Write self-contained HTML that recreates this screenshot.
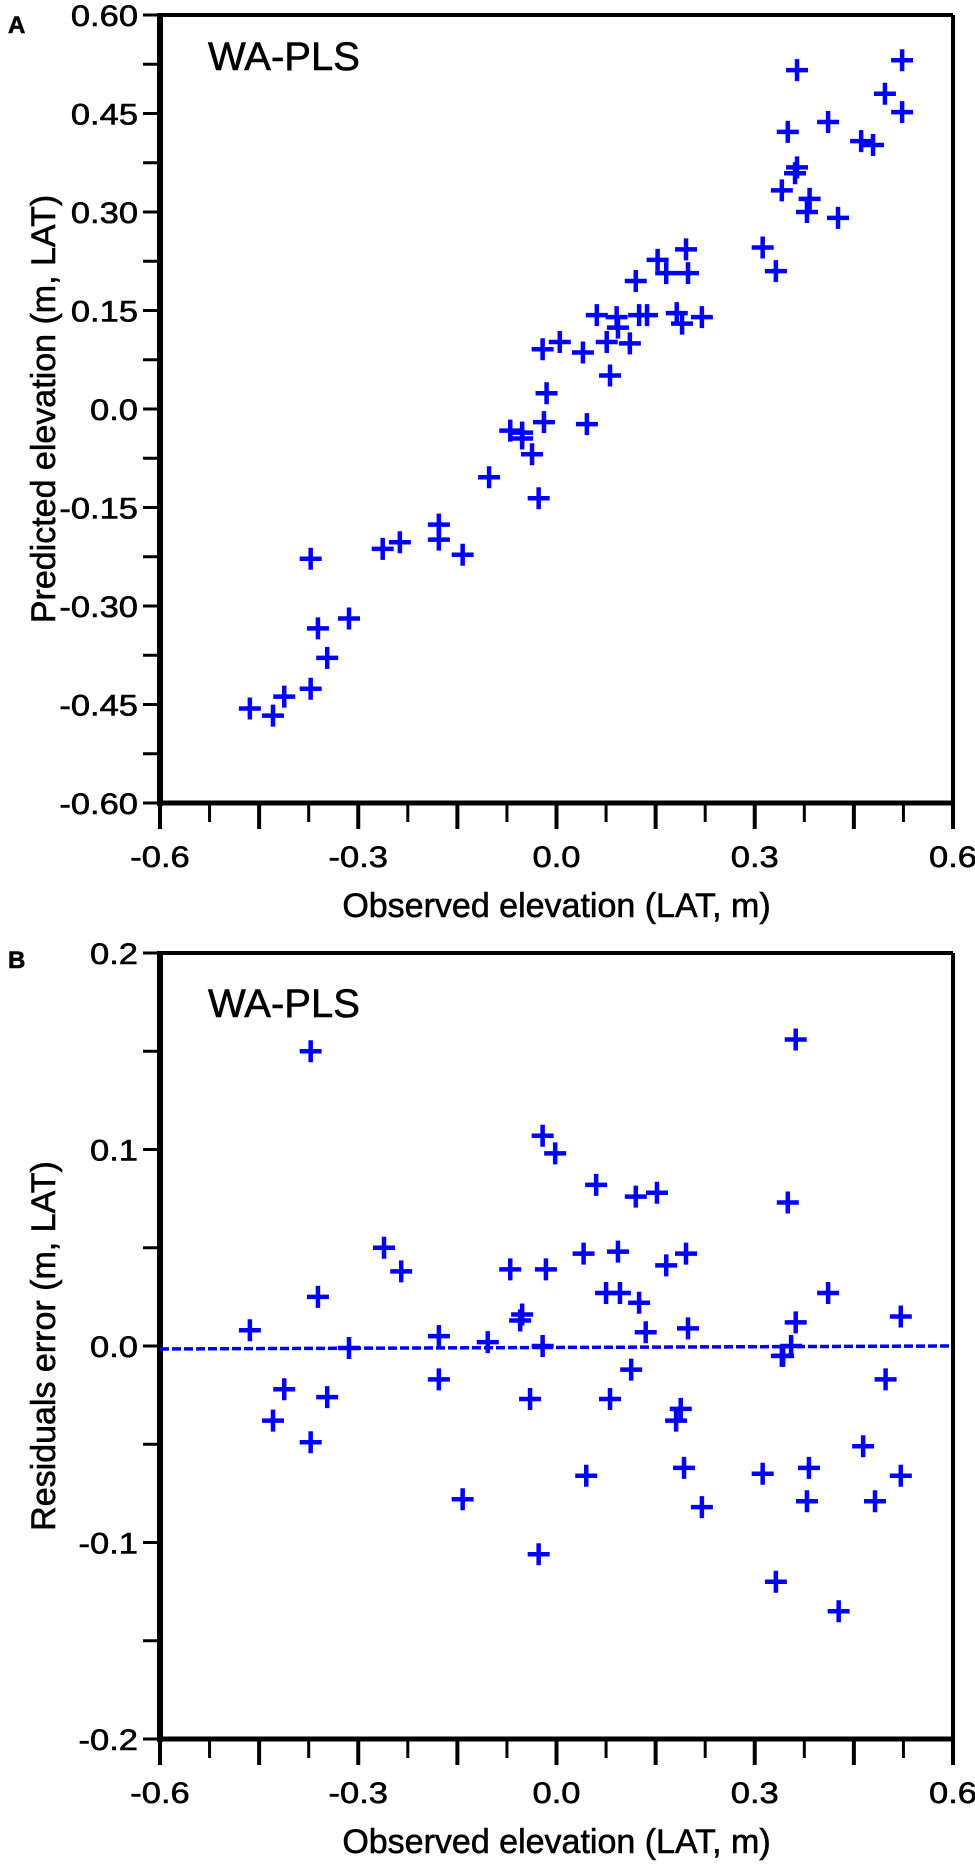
<!DOCTYPE html>
<html><head><meta charset="utf-8"><style>
html,body{margin:0;padding:0;background:#fff;}
svg{display:block;font-family:"Liberation Sans",Arial,sans-serif;}
svg text{stroke:#000;stroke-width:0.6px;}
</style></head><body>
<svg id="fig" width="975" height="1865" viewBox="0 0 975 1865" xmlns="http://www.w3.org/2000/svg">
<rect width="975" height="1865" fill="#fff"/>
<text x="8" y="33" font-size="24" font-weight="bold">A</text>
<text x="8" y="968" font-size="24" font-weight="bold">B</text>
<g id="pa"></g>
<g id="pb"></g>
</svg>
<script>
// Panel A data
const aObserved = [-0.015,-0.019,-0.070,-0.052,-0.052,-0.037,-0.102,-0.027,-0.178,-0.178,-0.142,-0.263,-0.237,-0.372,-0.314,-0.361,-0.347,-0.372,-0.412,-0.464,-0.429,0.046,0.196,0.153,0.166,0.199,0.120,0.061,0.091,0.125,0.137,0.182,0.190,0.220,0.093,0.076,0.111,-0.021,0.005,0.040,0.081,0.523,0.497,0.523,0.364,0.411,0.350,0.461,0.479,0.364,0.361,0.341,0.383,0.379,0.426,0.312,0.332];
const aPredicted = [0.024,-0.020,-0.033,-0.036,-0.045,-0.069,-0.104,-0.136,-0.176,-0.199,-0.222,-0.213,-0.203,-0.228,-0.319,-0.334,-0.379,-0.426,-0.438,-0.456,-0.467,-0.023,0.243,0.227,0.207,0.207,0.195,0.143,0.140,0.143,0.143,0.146,0.130,0.140,0.124,0.102,0.100,0.091,0.102,0.086,0.051,0.531,0.480,0.452,0.516,0.437,0.422,0.408,0.402,0.368,0.359,0.333,0.320,0.300,0.291,0.246,0.210];
const aYTicks = [0.60,0.45,0.30,0.15,0.0,-0.15,-0.30,-0.45,-0.60];
const aYTickLabels = ["0.60","0.45","0.30","0.15","0.0","-0.15","-0.30","-0.45","-0.60"];
// Panel B data
const bObserved = [-0.372,-0.021,-0.002,-0.261,-0.235,-0.361,-0.464,-0.314,-0.178,-0.104,-0.070,-0.016,-0.052,-0.055,-0.021,0.362,0.060,0.120,0.152,0.350,0.041,0.093,0.166,0.196,0.075,0.096,0.125,0.411,0.135,0.199,0.362,0.521,0.355,0.343,-0.412,-0.347,-0.429,-0.372,-0.178,-0.040,-0.142,-0.027,0.113,0.081,0.188,0.181,0.045,0.193,0.220,0.312,0.382,0.379,0.464,0.521,0.482,0.498,0.332,0.427,0.341];
const bResidual = [0.150,0.107,0.098,0.050,0.038,0.025,0.008,-0.001,0.005,0.002,0.039,0.039,0.016,0.013,0.000,0.156,0.082,0.076,0.078,0.073,0.047,0.048,0.041,0.047,0.027,0.027,0.022,0.027,0.007,0.009,0.012,0.015,0.000,-0.005,-0.022,-0.026,-0.038,-0.049,-0.017,-0.027,-0.078,-0.106,-0.012,-0.027,-0.032,-0.038,-0.066,-0.062,-0.082,-0.065,-0.062,-0.079,-0.051,-0.066,-0.079,-0.017,-0.120,-0.135,-0.005];
const bYTicks = [0.2,0.1,0.0,-0.1,-0.2];
const bYTickLabels = ["0.2","0.1","0.0","-0.1","-0.2"];
const bFitX = [-0.6,0.6];
const bFitY = [-0.0015,0.0];
// shared x axis
const xTicks = [-0.6,-0.3,0.0,0.3,0.6];
const xTickLabels = ["-0.6","-0.3","0.0","0.3","0.6"];

const NS="http://www.w3.org/2000/svg";
function mk(parent,tag,attrs){const e=document.createElementNS(NS,tag);for(const k in attrs)e.setAttribute(k,attrs[k]);parent.appendChild(e);return e;}
function stretch(t,f){try{const w=t.getComputedTextLength();t.setAttribute('textLength',(w*f).toFixed(1));t.setAttribute('lengthAdjust','spacingAndGlyphs');}catch(e){}}

function drawPanel(g,o){
  const L=160,R=953,T=o.top,B=o.bottom;
  const sx=v=>L+(v-(-0.6))/1.2*(R-L);
  const sy=v=>T+(o.ymax-v)/(o.ymax-o.ymin)*(B-T);
  let f;
  f=mk(g,'line',{x1:L,y1:T,x2:R,y2:T,stroke:'#000','stroke-width':4});
  
  
  f=mk(g,'line',{x1:R,y1:T,x2:R,y2:B,stroke:'#000','stroke-width':4});
  
  
  f=mk(g,'line',{x1:L,y1:T-2,x2:L,y2:B+3,stroke:'#000','stroke-width':6});
  
  
  f=mk(g,'line',{x1:L-3,y1:B,x2:R+2,y2:B,stroke:'#000','stroke-width':5});
  
  
  for(let i=0;i<=16;i++){
    const v=-0.6+i*0.075;const major=(i%2===0);
    const t=mk(g,'line',{x1:sx(v),y1:B,x2:sx(v),y2:B+(major?26:19),stroke:'#000','stroke-width':major?4:3});
    
    
  }
  xTicks.forEach((v,i)=>{
    const t=mk(g,'text',{x:sx(v),y:B+64,'font-size':30,'text-anchor':'middle'});
    t.textContent=xTickLabels[i];
    
    
    stretch(t,1.15);
  });
  const step=(o.yTicks[0]-o.yTicks[1])/2;
  for(let v=o.ymax;v>=o.ymin-1e-9;v-=step){
    const t=mk(g,'line',{x1:L-17,y1:sy(v),x2:L,y2:sy(v),stroke:'#000','stroke-width':3});
    
    
  }
  o.yTicks.forEach((v,i)=>{
    const t=mk(g,'text',{x:138,y:sy(v)+11,'font-size':30,'text-anchor':'end'});
    t.textContent=o.yLabels[i];
    
    
    stretch(t,1.15);
  });
  let t=mk(g,'text',{x:(L+R)/2,y:B+114,'font-size':34,'text-anchor':'middle'});
  t.textContent='Observed elevation (LAT, m)';
  
  
  const cy=(T+B)/2;
  t=mk(g,'text',{x:0,y:0,'font-size':34,'text-anchor':'middle',transform:`translate(55,${cy}) rotate(-90)`});
  t.textContent=o.yTitle;
  
  
  t=mk(g,'text',{x:208,y:T+(o.wTop),'font-size':40});
  t.textContent='WA-PLS';
  
  
  if(o.fitX){
    const ln=mk(g,'line',{x1:sx(o.fitX[0]),y1:sy(o.fitY[0]),x2:sx(o.fitX[1])-3,y2:sy(o.fitY[1]),stroke:'#0000ff','stroke-width':3.5,'stroke-dasharray':'9 3'});
    
    
  }
  o.xs.forEach((xv,i)=>{
    const px=sx(xv),py=sy(o.ys[i]);
    const p=mk(g,'path',{d:`M${px-11} ${py}H${px+11}M${px} ${py-11}V${py+11}`,stroke:'#0000ff','stroke-width':4.5,fill:'none'});
    
    
  });
}
drawPanel(document.getElementById('pa'),{top:15,bottom:803,ymax:0.6,ymin:-0.6,yTicks:aYTicks,yLabels:aYTickLabels,yTitle:'Predicted elevation (m, LAT)',xs:aObserved,ys:aPredicted,wTop:55});
drawPanel(document.getElementById('pb'),{top:953,bottom:1739,ymax:0.2,ymin:-0.2,yTicks:bYTicks,yLabels:bYTickLabels,yTitle:'Residuals error (m, LAT)',xs:bObserved,ys:bResidual,fitX:bFitX,fitY:bFitY,wTop:64});
</script>
</body></html>
